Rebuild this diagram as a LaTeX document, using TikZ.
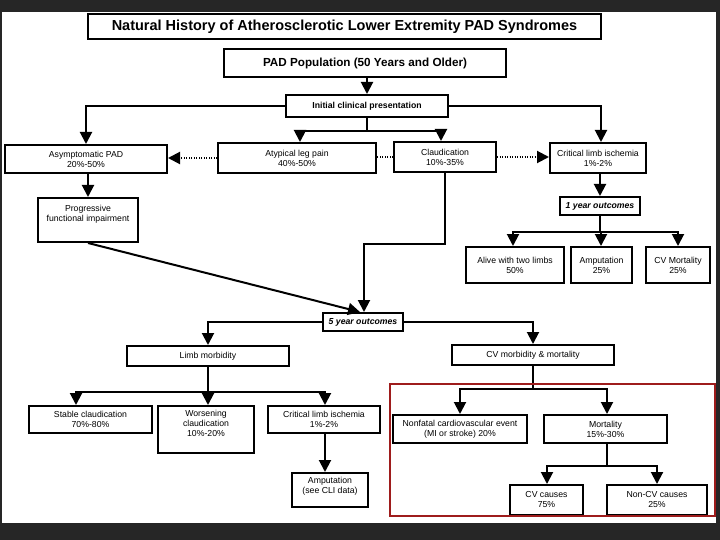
\documentclass[tikz,border=0pt]{standalone}
\usepackage{fontspec}
\setmainfont{Liberation Sans}
\usetikzlibrary{arrows.meta}
\definecolor{bgdark}{RGB}{38,38,38}
\definecolor{hilite}{RGB}{158,28,28}

\begin{document}
\begin{tikzpicture}[x=1pt,y=-1pt,
    box/.style={draw,line width=2pt,fill=white,align=center,inner sep=1.5pt,
      font=\fontsize{8.7}{10}\selectfont},
    sz/.style 2 args={minimum width=#1pt,minimum height=#2pt},
    bold/.style={font=\fontsize{8.7}{10}\selectfont\bfseries},
    bolditalic/.style={font=\fontsize{8.7}{10}\selectfont\bfseries\itshape},
    wire/.style={line width=2pt},
    arr/.style={wire,-{Triangle[width=12pt,length=12pt]}},
    dots/.style={line width=2pt,dash pattern=on 1pt off 1.5pt}]
    \fill[bgdark] (0,0) rectangle (720,540);
    \fill[white] (2,12) rectangle (716,523);
    \node[box,sz={513}{25},font=\fontsize{14.5}{17}\selectfont\bfseries] (title) at (344.5,26.5) {Natural History of Atherosclerotic Lower Extremity PAD Syndromes};
    \node[box,sz={282}{28},font=\fontsize{11.7}{14}\selectfont\bfseries] (pop) at (365,63) {PAD Population (50 Years and Older)};
    \node[box,bold,sz={162}{22}] (icp) at (367,106) {Initial clinical presentation};
    \node[box,sz={162}{28}] (asym) at (86,159) {Asymptomatic PAD\\20\%-50\%};
    \node[box,sz={158}{30}] (atyp) at (297,158) {Atypical leg pain\\40\%-50\%};
    \node[box,sz={102}{30}] (claud) at (445,157) {Claudication\\10\%-35\%};
    \node[box,sz={96}{30}] (cli) at (598,158) {Critical limb ischemia\\1\%-2\%};
    \node[box,sz={100}{44},text depth=13pt] (prog) at (88,220) {Progressive\\functional impairment};
    \node[box,bolditalic,sz={80}{18}] (oneyr) at (600,206) {1 year outcomes};
    \node[box,sz={98}{36}] (alive) at (515,265) {Alive with two limbs\\50\%};
    \node[box,sz={61}{36}] (amput1) at (601.5,265) {Amputation\\25\%};
    \node[box,sz={64}{36}] (cvmort) at (678,265) {CV Mortality\\25\%};
    \node[box,bolditalic,sz={80}{18}] (fiveyr) at (363,322) {5 year outcomes};
    \node[box,sz={162}{20}] (limb) at (208,356) {Limb morbidity};
    \node[box,sz={162}{20}] (cvmm) at (533,355) {CV morbidity \& mortality};
    \node[box,sz={123}{27}] (stable) at (90.5,419.5) {Stable claudication\\70\%-80\%};
    \node[box,sz={96}{47},text depth=12pt] (worse) at (206,429.5) {Worsening\\claudication\\10\%-20\%};
    \node[box,sz={112}{27}] (cli2) at (324,419.5) {Critical limb ischemia\\1\%-2\%};
    \node[box,sz={76}{34},text depth=9.8pt] (amput2) at (330,490) {Amputation\\(see CLI data)};
    \node[box,sz={134}{28}] (nonfatal) at (460,429) {Nonfatal cardiovascular event\\(MI or stroke) 20\%};
    \node[box,sz={123}{28}] (mortal) at (605.5,429) {Mortality\\15\%-30\%};
    \node[box,sz={73}{30}] (cvc) at (546.5,500) {CV causes\\75\%};
    \node[box,sz={100}{30}] (noncv) at (657,500) {Non-CV causes\\25\%};
    \draw[arr] (pop.south -| icp.north) -- (icp.north);
    \draw[arr] (icp.west) -| (asym.north);
    \draw[arr] (icp.east) -| ([xshift=3pt]cli.north);
    \draw[wire] (icp.south) -- ++(0,13) coordinate (ij);
    \draw[arr] (ij) -| ([xshift=3pt]atyp.north);
    \draw[arr] (ij) -| ([xshift=-4pt]claud.north);
    \draw[dots,-{Triangle[width=12pt,length=12pt]}] (atyp.west) -- (atyp.west -| asym.east);
    \draw[dots] (claud.west) -- (claud.west -| atyp.east);
    \draw[dots,-{Triangle[width=12pt,length=12pt]}] (claud.east) -- (claud.east -| cli.west);
    \draw[arr] (asym.south -| prog.north) -- (prog.north);
    \draw[arr] (cli.south -| oneyr.north) -- (oneyr.north);
    \draw[wire] (oneyr.south) -- ++(0,16) coordinate (oj);
    \draw[arr] (oj) -| ([xshift=-2pt]alive.north);
    \draw[arr] (oj) -| ([xshift=-0.5pt]amput1.north);
    \draw[arr] (oj) -| (cvmort.north);
    \draw[arr] (claud.south) -- ++(0,71) -| ([xshift=1pt]fiveyr.north);
    \draw[arr] (prog.south) -- ([xshift=-3pt]fiveyr.north);
    \draw[arr] (fiveyr.west) -| (limb.north);
    \draw[arr] (fiveyr.east) -| (cvmm.north);
    \draw[wire] (limb.south) -- ++(0,25) coordinate (lj);
    \draw[arr] (lj) -| ([xshift=-14.5pt]stable.north);
    \draw[arr] (lj) -- (lj |- worse.north);
    \draw[arr] (lj) -| ([xshift=1pt]cli2.north);
    \draw[arr] ([xshift=1pt]cli2.south) -- ([xshift=1pt]cli2.south |- amput2.north);
    \draw[wire] (cvmm.south) -- ++(0,23) coordinate (cj);
    \draw[arr] (cj) -| (nonfatal.north);
    \draw[arr] (cj) -| ([xshift=1.5pt]mortal.north);
    \draw[wire] ([xshift=1.5pt]mortal.south) -- ++(0,22) coordinate (mj);
    \draw[arr] (mj) -| ([xshift=0.5pt]cvc.north);
    \draw[arr] (mj) -| (noncv.north);
    \draw[draw=hilite,line width=2pt] (390,384) rectangle (715,516);
\end{tikzpicture}
\end{document}
